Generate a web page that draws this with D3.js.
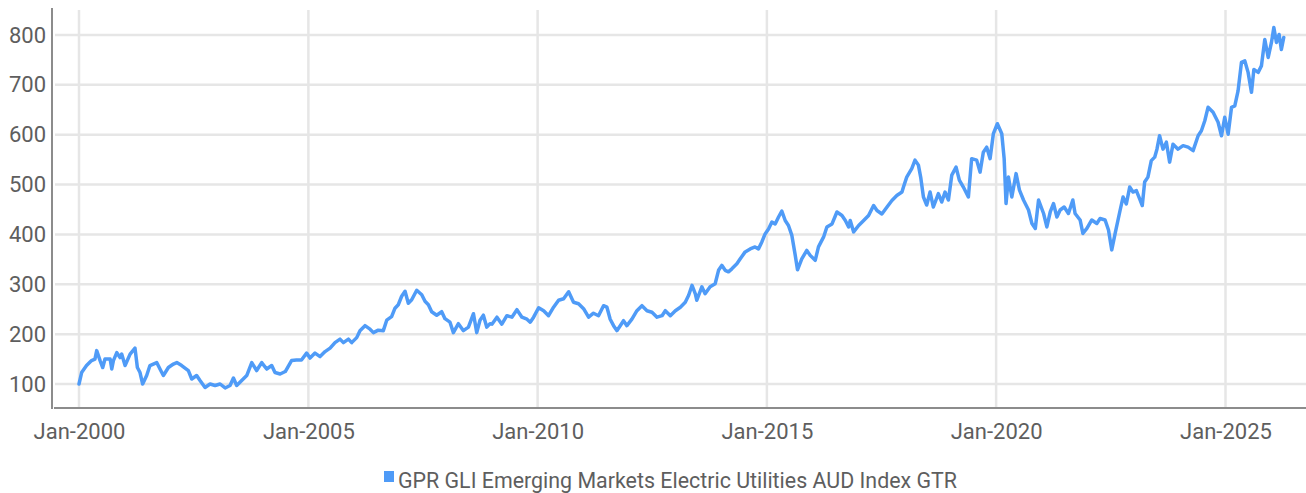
<!DOCTYPE html>
<html>
<head>
<meta charset="utf-8">
<script src="https://cdn.jsdelivr.net/npm/d3@7"></script>
<style>
  body { margin: 0; background: #fff; }
  text { font-family: "Roboto", sans-serif; }
</style>
</head>
<body>
<div id="chart"></div>
<script>
// series
const dates = [
  "2000-01-01","2000-01-22","2000-03-01","2000-04-10","2000-05-07","2000-05-21","2000-06-17","2000-07-08","2000-07-26","2000-09-05",
  "2000-09-18","2000-10-01","2000-10-28","2000-11-23","2000-12-06","2001-01-02","2001-02-11","2001-03-22","2001-04-10","2001-05-01",
  "2001-05-22","2001-06-23","2001-07-19","2001-09-11","2001-10-07","2001-11-03","2001-12-13","2002-01-22","2002-02-18","2002-03-29",
  "2002-05-21","2002-06-17","2002-07-26","2002-08-22","2002-10-01","2002-11-10","2002-12-20","2003-01-29","2003-03-10","2003-04-18",
  "2003-05-15","2003-06-10","2003-07-20","2003-08-29","2003-10-08","2003-11-16","2003-12-26","2004-02-04","2004-03-15","2004-04-10",
  "2004-05-21","2004-07-01","2004-08-20","2004-09-28","2004-11-07","2004-12-18","2005-01-14","2005-02-23","2005-04-04","2005-05-14",
  "2005-06-23","2005-08-01","2005-09-10","2005-10-07","2005-11-16","2005-12-12","2006-01-21","2006-02-16","2006-03-28","2006-05-07",
  "2006-06-03","2006-07-12","2006-08-21","2006-09-17","2006-10-26","2006-11-22","2006-12-18","2007-01-14","2007-02-10","2007-03-08",
  "2007-04-04","2007-05-14","2007-06-23","2007-07-19","2007-08-15","2007-09-10","2007-10-20","2007-11-29","2007-12-25","2008-02-03",
  "2008-03-01","2008-04-10","2008-05-20","2008-06-29","2008-08-08","2008-09-03","2008-09-29","2008-10-26","2008-11-22","2008-12-18",
  "2009-01-02","2009-02-11","2009-03-22","2009-05-01","2009-06-10","2009-07-20","2009-08-29","2009-10-08","2009-11-03","2009-11-30",
  "2010-01-09","2010-02-18","2010-03-29","2010-05-08","2010-06-17","2010-07-27","2010-09-05","2010-10-14","2010-11-23","2011-01-02",
  "2011-02-11","2011-03-22","2011-05-01","2011-06-10","2011-07-07","2011-08-02","2011-08-29","2011-09-24","2011-10-21","2011-11-16",
  "2011-12-13","2012-01-22","2012-03-02","2012-04-11","2012-05-21","2012-06-30","2012-08-09","2012-09-18","2012-10-14","2012-11-23",
  "2013-01-02","2013-02-11","2013-03-22","2013-04-18","2013-05-15","2013-06-10","2013-06-22","2013-08-01","2013-08-27","2013-10-06",
  "2013-11-15","2013-12-12","2014-01-07","2014-02-03","2014-03-01","2014-03-28","2014-05-07","2014-06-03","2014-07-12","2014-08-21",
  "2014-09-29","2014-10-26","2014-11-22","2014-12-18","2015-01-14","2015-02-10","2015-03-08","2015-04-04","2015-04-30","2015-05-27",
  "2015-06-22","2015-07-19","2015-08-15","2015-09-02","2015-10-06","2015-11-15","2015-12-12","2016-01-21","2016-02-16","2016-03-28",
  "2016-04-23","2016-06-03","2016-07-12","2016-08-21","2016-09-17","2016-10-13","2016-10-26","2016-11-22","2017-01-01","2017-02-10",
  "2017-03-21","2017-04-30","2017-05-27","2017-07-05","2017-08-15","2017-09-23","2017-11-01","2017-12-12","2017-12-24","2018-01-19",
  "2018-02-28","2018-03-26","2018-04-22","2018-05-10","2018-06-01","2018-06-27","2018-07-24","2018-08-19","2018-09-28","2018-10-25",
  "2018-11-20","2018-12-17","2019-01-13","2019-02-16","2019-03-14","2019-04-15","2019-05-25","2019-06-20","2019-07-30","2019-08-26",
  "2019-09-21","2019-10-18","2019-11-14","2019-12-10","2020-01-11","2020-02-15","2020-03-05","2020-03-20","2020-04-08","2020-05-05",
  "2020-06-08","2020-07-05","2020-08-06","2020-09-15","2020-10-12","2020-11-08","2020-12-04","2021-01-13","2021-02-08","2021-03-07",
  "2021-04-02","2021-04-29","2021-05-25","2021-06-26","2021-07-30","2021-09-03","2021-09-21","2021-10-31","2021-11-22","2021-12-24",
  "2022-02-01","2022-03-13","2022-04-08","2022-05-18","2022-06-14","2022-07-10","2022-08-06","2022-09-15","2022-10-08","2022-11-03",
  "2022-11-30","2022-12-26","2023-01-22","2023-02-18","2023-03-10","2023-03-29","2023-04-24","2023-05-21","2023-06-17","2023-07-05",
  "2023-07-26","2023-08-22","2023-09-18","2023-10-14","2023-11-10","2023-12-20","2024-01-29","2024-03-09","2024-04-18","2024-05-28",
  "2024-06-23","2024-07-20","2024-08-15","2024-09-24","2024-11-03","2024-11-30","2024-12-26","2025-01-22","2025-02-18","2025-03-16",
  "2025-04-11","2025-05-08","2025-06-04","2025-06-30","2025-07-27","2025-08-15","2025-09-18","2025-10-14","2025-11-10","2025-12-07",
  "2026-01-02","2026-01-21","2026-02-11","2026-03-04","2026-03-22","2026-04-10"
];
const values = [
  100,123,137,147,150,167,147,133,150,150,
  130,147,163,153,160,137,160,172,133,123,
  100,117,137,143,130,117,133,140,143,137,
  127,110,117,107,93,100,97,100,92,97,
  112,97,107,117,143,127,143,130,137,123,
  120,125,147,148,148,162,152,162,155,165,
  172,183,190,183,190,183,193,207,217,210,
  203,208,207,228,235,252,259,276,286,262,
  269,288,279,266,259,245,238,245,231,224,
  203,221,207,214,241,203,228,238,214,221,
  220,234,220,237,234,249,234,230,224,234,
  253,247,237,254,268,271,285,264,261,251,
  234,242,237,257,254,230,217,207,217,227,
  217,230,247,257,247,244,234,237,247,237,
  247,254,264,278,298,281,268,295,281,295,
  301,328,338,328,325,331,341,351,365,371,
  375,371,385,401,411,425,421,435,447,428,
  418,398,358,329,351,368,358,348,375,395,
  415,421,445,438,428,415,428,405,418,428,
  438,458,448,441,455,468,478,485,495,515,
  532,549,539,515,475,459,485,455,482,465,
  485,469,519,535,509,495,475,552,549,525,
  565,575,552,602,622,602,552,462,515,475,
  522,489,469,449,422,412,469,442,415,445,
  462,435,449,455,442,469,442,429,402,412,
  429,422,432,429,409,369,402,449,475,461,
  495,485,488,471,458,505,515,548,555,571,
  598,571,585,545,581,571,578,575,568,598,
  608,628,655,645,625,598,635,601,655,658,
  688,745,748,725,685,731,725,738,791,755,
  785,815,785,801,771,795
];
const yTicks = [100, 200, 300, 400, 500, 600, 700, 800];
const xTickYears = [2000, 2005, 2010, 2015, 2020, 2025];
const seriesName = "GPR GLI Emerging Markets Electric Utilities AUD Index GTR";

const width = 1306, height = 493;
const plotLeft = 52, plotRight = 1306, plotTop = 9, plotBottom = 408;
const lineColor = "#4f9bf7";
const gridColor = "#e6e6e6";
const axisColor = "#8c8c8c";
const textColor = "#5e5e5e";

const parse = d3.timeParse("%Y-%m-%d");
const data = dates.map((d, i) => ({ date: parse(d), value: values[i] }));
const xTicks = xTickYears.map(y => new Date(y, 0, 1));

const x = d3.scaleTime()
  .domain([new Date(2000, 0, 1), new Date(2025, 0, 1)])
  .range([79, 1225.5]);
const y = d3.scaleLinear()
  .domain([100, 800])
  .range([384, 35]);

const svg = d3.select("#chart")
  .append("svg")
  .attr("width", width)
  .attr("height", height);

// horizontal grid
svg.append("g")
  .selectAll("line")
  .data(yTicks)
  .enter().append("line")
  .attr("x1", plotLeft + 3)
  .attr("x2", plotRight)
  .attr("y1", d => y(d))
  .attr("y2", d => y(d))
  .attr("stroke", gridColor)
  .attr("stroke-width", 2.5)

// vertical grid
svg.append("g")
  .selectAll("line")
  .data(xTicks)
  .enter().append("line")
  .attr("x1", d => x(d))
  .attr("x2", d => x(d))
  .attr("y1", plotTop + 1)
  .attr("y2", plotBottom)
  .attr("stroke", gridColor)
  .attr("stroke-width", 2.5)

// axis lines
svg.append("line")
  .attr("x1", plotLeft).attr("x2", plotLeft)
  .attr("y1", plotTop - 1).attr("y2", plotBottom + 1)
  .attr("stroke", axisColor).attr("stroke-width", 2)
svg.append("line")
  .attr("x1", plotLeft + 2).attr("x2", plotRight)
  .attr("y1", plotBottom).attr("y2", plotBottom)
  .attr("stroke", axisColor).attr("stroke-width", 2)

// y labels
const yAxis = d3.axisLeft(y).tickValues(yTicks).tickSize(0).tickPadding(6);
svg.append("g")
  .attr("transform", `translate(${plotLeft},0)`)
  .call(yAxis)
  .call(g => g.select(".domain").remove())
  .selectAll("text")
  .attr("fill", textColor)
  .style("font-size", "22px")

// x labels
const xAxis = d3.axisBottom(x).tickValues(xTicks).tickSize(0).tickPadding(15)
  .tickFormat(d3.timeFormat("Jan-%Y"));
svg.append("g")
  .attr("transform", `translate(0,${plotBottom})`)
  .call(xAxis)
  .call(g => g.select(".domain").remove())
  .selectAll("text")
  .attr("fill", textColor)
  .style("font-size", "22px")

// series line
const line = d3.line()
  .x(d => x(d.date))
  .y(d => y(d.value));
svg.append("path")
  .datum(data)
  .attr("d", line)
  .attr("fill", "none")
  .attr("stroke", lineColor)
  .attr("stroke-width", 3.5)
  .attr("stroke-linejoin", "round")
  .attr("stroke-linecap", "round")

// legend
const legend = svg.append("g").attr("transform", "translate(384,0)");
legend.append("rect")
  .attr("x", 0).attr("y", 471)
  .attr("width", 10).attr("height", 11)
  .attr("fill", lineColor)
legend.append("text")
  .attr("x", 14).attr("y", 488)
  .attr("fill", textColor)
  .style("font-size", "21.4px")
  .text(seriesName)
</script>
</body>
</html>
